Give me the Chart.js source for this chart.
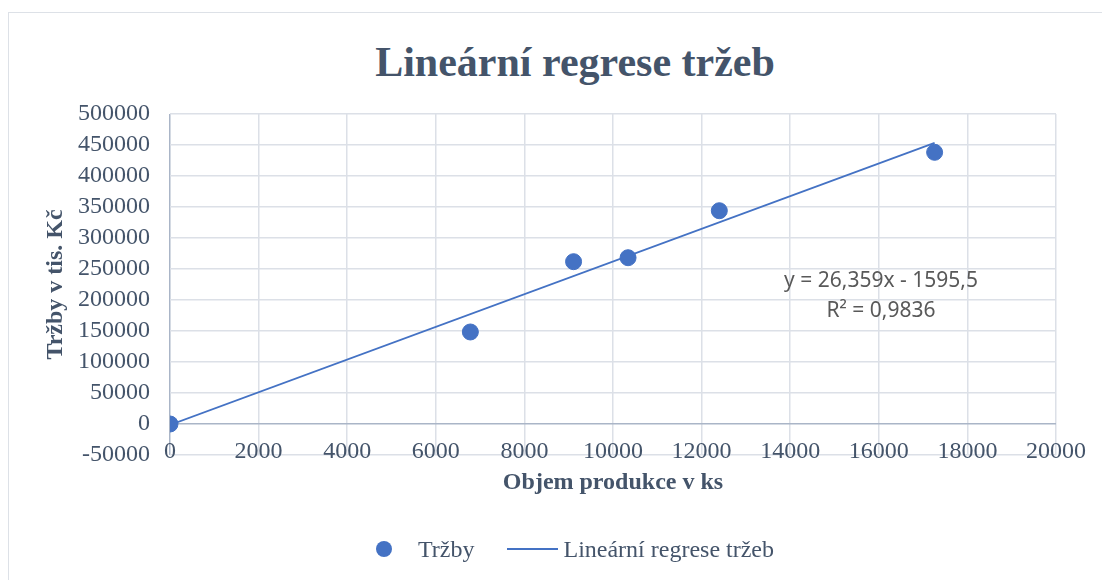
<!DOCTYPE html>
<html lang="cs">
<head>
<meta charset="utf-8">
<title>Lineární regrese tržeb</title>
<script src="https://cdn.jsdelivr.net/npm/chart.js@4.4.1/dist/chart.umd.min.js"></script>
<style>
  html, body { margin: 0; padding: 0; background: #fff; overflow: hidden; }
  #frame {
    position: absolute; left: 8px; top: 12px; width: 1200px; height: 700px;
    border: 1px solid #dde1e7; box-sizing: border-box;
  }
  #wrap { position: absolute; left: 0; top: 0; width: 1102px; height: 580px; }
  #chart-title {
    position: absolute; left: 0; top: 37px; width: 1150px; margin: 0;
    text-align: center; font: bold 42px "Liberation Serif", "Times New Roman", serif;
    line-height: 50px; color: #44546a;
  }
  #legend {
    position: absolute; left: 376px; top: 535px; height: 28px;
    display: flex; align-items: center;
    font: 24px "Liberation Serif", "Times New Roman", serif; color: #44546a;
  }
  .dot { width: 16px; height: 16px; border-radius: 50%; background: #4472c4; margin-right: 26px; }
  .dash { width: 51px; height: 2px; background: #4472c4; margin-left: 33px; margin-right: 5px; }
</style>
</head>
<body>
<div id="frame"></div>
<h1 id="chart-title">Lineární regrese tržeb</h1>
<div id="wrap"><canvas id="chart" width="1102" height="580"></canvas></div>
<div id="legend"></div>
<script>
// objem produkce (ks) a tržby (tis. Kč)
const objem = [0, 6780, 9110, 10340, 12400, 17260];
const trzby = [0, 148400, 261800, 268200, 344000, 438200];

// koncové body spojnice trendu
const trendX = [0, 17260];
const trendY = [-1600, 453400];

const rovnice = ['y = 26,359x - 1595,5', 'R² = 0,9836'];

const TEXT = '#44546a';
const BLUE = '#4472c4';
const GRID = '#dce0e7';
const AXIS = '#aab5c7';
const serif = '"Liberation Serif", "Times New Roman", serif';

const equationLabel = {
  id: 'equationLabel',
  afterDatasetsDraw(chart) {
    const { ctx, scales: { x, y } } = chart;
    const px = x.getPixelForValue(16050);
    ctx.save();
    ctx.font = '21px "Noto Sans", sans-serif';
    ctx.fillStyle = '#595959';
    ctx.textAlign = 'center';
    ctx.textBaseline = 'middle';
    ctx.fillText(rovnice[0], px, y.getPixelForValue(230600));
    ctx.fillText(rovnice[1], px, y.getPixelForValue(182300));
    ctx.restore();
  }
};

const plainNumber = (value) => String(value);

const chart = new Chart(document.getElementById('chart'), {
  type: 'scatter',
  data: {
    datasets: [
      {
        label: 'Tržby',
        data: objem.map((v, i) => ({ x: v, y: trzby[i] })),
        backgroundColor: BLUE,
        borderColor: BLUE,
        pointRadius: 8,
        pointHoverRadius: 8,
        order: 1
      },
      {
        label: 'Lineární regrese tržeb',
        type: 'line',
        data: trendX.map((v, i) => ({ x: v, y: trendY[i] })),
        borderColor: BLUE,
        borderWidth: 1.8,
        pointRadius: 0,
        fill: false,
        order: 2
      }
    ]
  },
  options: {
    responsive: false,
    animation: false,
    layout: { padding: { top: 114, right: 46, bottom: 75, left: 0 } },
    plugins: {
      legend: { display: false },
      title: { display: false },
      tooltip: { enabled: false }
    },
    scales: {
      x: {
        type: 'linear',
        min: 0,
        max: 20000,
        border: { display: false },
        grid: {
          drawTicks: false,
          lineWidth: 1.5,
          color: (c) => (c.tick && c.tick.value === 0 ? AXIS : GRID)
        },
        ticks: {
          stepSize: 2000,
          mirror: true,   // mirror = popisky se neořezávají na oblast osy
          padding: -11,
          color: TEXT,
          font: { family: serif, size: 24 },
          maxRotation: 0,
          autoSkip: false,
          callback: plainNumber
        },
        title: {
          display: true,
          text: 'Objem produkce v ks',
          color: TEXT,
          font: { family: serif, size: 24, weight: 'bold' },
          padding: { top: 0, bottom: 8 }
        },
        afterFit(scale) { scale.height = 50; }
      },
      y: {
        min: -50000,
        max: 500000,
        border: { display: false },
        grid: {
          drawTicks: false,
          lineWidth: 1.5,
          color: (c) => (c.tick && c.tick.value === 0 ? AXIS : GRID)
        },
        ticks: {
          stepSize: 50000,
          padding: 20,
          color: TEXT,
          font: { family: serif, size: 24 },
          autoSkip: false,
          callback: plainNumber
        },
        title: {
          display: true,
          text: 'Tržby v tis. Kč',
          color: TEXT,
          font: { family: serif, size: 24, weight: 'bold' },
          padding: { top: 41, bottom: 0 }
        },
        afterFit(scale) { scale.width = 170; }
      }
    }
  },
  plugins: [equationLabel]
});

// legenda jako HTML
function renderLegend() {
  const legend = document.getElementById('legend');
  const [body, line] = chart.data.datasets;
  const dot = document.createElement('span');
  dot.className = 'dot';
  const t1 = document.createElement('span');
  t1.textContent = body.label;
  const dash = document.createElement('span');
  dash.className = 'dash';
  const t2 = document.createElement('span');
  t2.textContent = line.label;
  legend.append(dot, t1, dash, t2);
}

renderLegend();
</script>
</body>
</html>
